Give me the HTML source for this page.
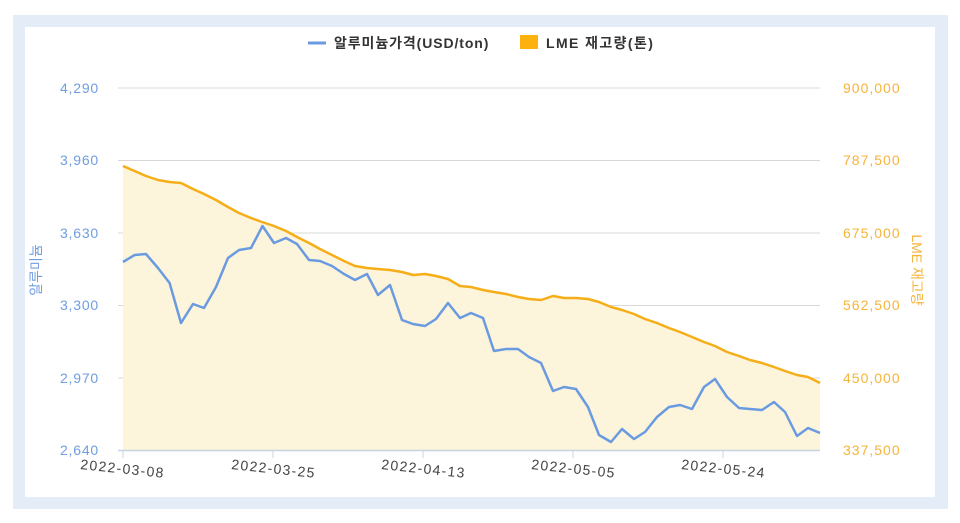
<!DOCTYPE html>
<html><head><meta charset="utf-8"><style>
html,body{margin:0;padding:0;background:#fff;}
body{width:960px;height:523px;overflow:hidden;position:relative;font-family:"Liberation Sans","Noto Sans CJK KR",sans-serif;}
.outer{position:absolute;left:13px;top:15px;width:935px;height:494px;background:#e4edf7;}
.inner{position:absolute;left:25px;top:27px;width:910px;height:470px;background:#fff;}
svg{position:absolute;left:0;top:0;}
</style></head><body>
<div class="outer"></div><div class="inner"></div>
<svg width="960" height="523" xmlns="http://www.w3.org/2000/svg" font-family="Liberation Sans, Noto Sans CJK KR, sans-serif">
<g stroke="#d8d8d8" stroke-width="1">
<line x1="118" y1="88" x2="820" y2="88"/><line x1="118" y1="160.5" x2="820" y2="160.5"/>
<line x1="118" y1="233" x2="820" y2="233"/><line x1="118" y1="305.5" x2="820" y2="305.5"/>
<line x1="118" y1="378" x2="820" y2="378"/>
</g>
<polygon fill="#fdf4dc" points="123,166 134.6,171 146,176 158,180 169.6,182 181,183 193,189 204,194 216,200 228,207 239,213 251,218 262,222 274,226 286,231 297,237 309,243 320,249 332,255 344,261 355,266 367,268 378,269 390,270 402,272 413,275 425,274 436,276 448,279 460,286 471,287 483,290 494,292 506,294 518,297 529,299 541,300 553,296 564,298 576,298 588,299 599,302 611,307 622,310 634,314 645,319 657,323 669,328 680,332 692,337 704,342 715,346 727,352 739,356 750,360 762,363 774,367 785,371 797,375 808,377 820,383 820,450 123,450" />
<polyline fill="none" stroke="#f5ae17" stroke-width="2.5" stroke-linejoin="round" points="123,166 134.6,171 146,176 158,180 169.6,182 181,183 193,189 204,194 216,200 228,207 239,213 251,218 262,222 274,226 286,231 297,237 309,243 320,249 332,255 344,261 355,266 367,268 378,269 390,270 402,272 413,275 425,274 436,276 448,279 460,286 471,287 483,290 494,292 506,294 518,297 529,299 541,300 553,296 564,298 576,298 588,299 599,302 611,307 622,310 634,314 645,319 657,323 669,328 680,332 692,337 704,342 715,346 727,352 739,356 750,360 762,363 774,367 785,371 797,375 808,377 820,383"/>
<polyline fill="none" stroke="#6a9be0" stroke-width="2.5" stroke-linejoin="round" points="123,262 134.6,255 146,254 158,268 169.6,283 181,323 193,304 204,308 216,287 228,258 239,250 251,248 262.5,226 274,243 286,238 297,244 309,260 320,261 332,266 344,274 355,280 367,274 378,295 390,285 402,320 413,324 425,326 436,319 448,303 460,318 471,313 483,318 494,351 506,349 518,349 529,357 541,363 553,391 564,387 576,389 588,407 599,435 611,442 622,429 634,439 645,432 657,417 669,407 680,405 692,409 704,387 715,379 727,397 739,408 750,409 762,410 774,402 785,412 797,436 808,428 820,433"/>
<line x1="118" y1="450.5" x2="820" y2="450.5" stroke="#c8d3e0" stroke-width="1.5"/>
<g stroke="#c8d3e0" stroke-width="1"><line x1="123" y1="450" x2="123" y2="458"/><line x1="273" y1="450" x2="273" y2="458"/><line x1="423" y1="450" x2="423" y2="458"/><line x1="573" y1="450" x2="573" y2="458"/><line x1="723" y1="450" x2="723" y2="458"/></g>
<g fill="#6f9ee0" font-size="14" letter-spacing="0.8" text-anchor="end">
<text x="99" y="93">4,290</text><text x="99" y="165">3,960</text><text x="99" y="238">3,630</text>
<text x="99" y="310">3,300</text><text x="99" y="383">2,970</text><text x="99" y="455">2,640</text>
</g>
<g fill="#f5b43a" font-size="14" letter-spacing="1" text-anchor="start">
<text x="843" y="93">900,000</text><text x="843" y="165">787,500</text><text x="843" y="238">675,000</text>
<text x="843" y="310">562,500</text><text x="843" y="383">450,000</text><text x="843" y="455">337,500</text>
</g>
<g fill="#444" font-size="14" letter-spacing="1.3">
<text transform="translate(80,469) rotate(6)">2022-03-08</text>
<text transform="translate(231,469) rotate(6)">2022-03-25</text>
<text transform="translate(381,469) rotate(6)">2022-04-13</text>
<text transform="translate(531,469) rotate(6)">2022-05-05</text>
<text transform="translate(681,469) rotate(6)">2022-05-24</text>
</g>
<text transform="translate(41,270) rotate(-90)" fill="#6f9ee0" font-size="14" text-anchor="middle">알루미늄</text>
<text transform="translate(912,270) rotate(90)" fill="#f5b43a" font-size="14" text-anchor="middle">LME 재고량</text>
<line x1="308" y1="43" x2="326" y2="43" stroke="#6a9be0" stroke-width="3"/>
<text x="334" y="48" font-size="14" font-weight="bold" letter-spacing="0.9" fill="#333">알루미늄가격(USD/ton)</text>
<rect x="520" y="35" width="18" height="14" fill="#fdb10f"/>
<text x="546" y="48" font-size="14" font-weight="bold" letter-spacing="1.4" fill="#333">LME 재고량(톤)</text>
</svg>
</body></html>
